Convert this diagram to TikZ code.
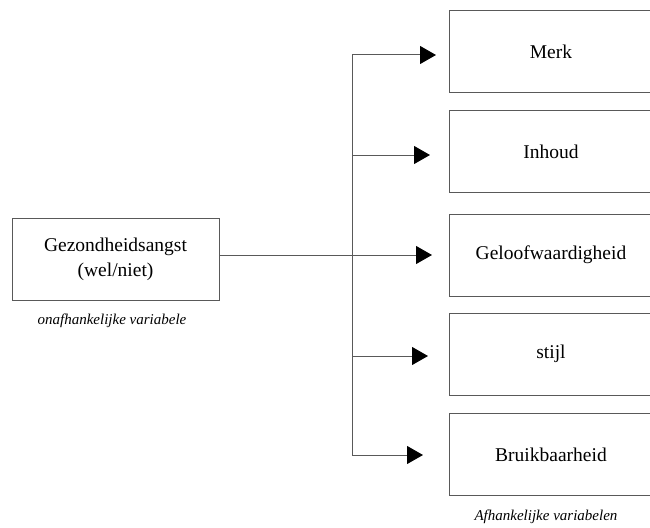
\documentclass[tikz,border=0pt]{standalone}
\usepackage{fontspec}
\setmainfont{Liberation Serif}
\usepackage{tikz}
\usetikzlibrary{positioning}
\usetikzlibrary{arrows.meta}

\tikzset{
	varbox/.style={draw=black!65, line width=1pt, align=center, inner sep=0pt,
		font=\fontsize{19.5}{25}\selectfont},
	depbox/.style={varbox, minimum width=203pt, minimum height=82pt, anchor=west},
	varlabel/.style={font=\fontsize{15}{18}\selectfont\itshape},
	branch/.style={draw=black!65, line width=1pt},
	brancharrow/.style={branch, -{Triangle[length=16pt,width=18pt,color=black]}},
}

\begin{document}
\begin{tikzpicture}[x=1pt,y=-1pt]
	
	% ---------------------
	% Frame
	\useasboundingbox (0,0) rectangle (650,527);
	
	% ---------------------
	% Independent variable
	\node[varbox, minimum width=207pt, minimum height=82pt] (Onafh) at (115.5,259)
		{Gezondheidsangst\\(wel/niet)};
	\node[varlabel] (OnafhLabel) at (112,321) {onafhankelijke variabele};
	
	% ---------------------
	% Split point & trunk
	\coordinate (Split) at (352,255);
	\draw[branch] (Onafh.east |- Split) -- (Split);
	
	% ---------------------
	% Dependent variables
	\foreach \name/\ybox/\ybranch/\tip in {Merk/51.5/55/436, Inhoud/151.5/155/430,
		Geloofwaardigheid/255/255/432, stijl/354/356/428, Bruikbaarheid/454.5/455/423}{
		\node[depbox] (\name) at (449,\ybox) {\name};
		\coordinate (Branch\name) at (352,\ybranch);
		\coordinate (Tip\name) at (\tip,\ybranch);
		\draw[brancharrow] (Branch\name) -- (Tip\name);
	}
	\draw[branch] (BranchMerk) -- (BranchBruikbaarheid);
	
	\node[varlabel] (AfhLabel) at (546,517) {Afhankelijke variabelen};
	
\end{tikzpicture}
\end{document}
